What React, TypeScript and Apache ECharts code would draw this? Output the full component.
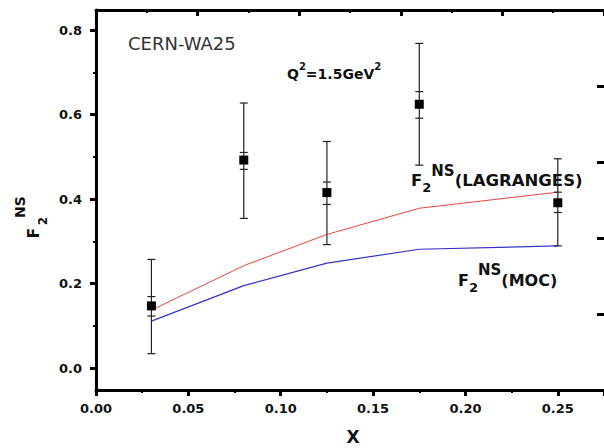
import React, { useEffect, useRef } from "react";
import * as echarts from "echarts";

// x values of the CERN-WA25 data points
const xs = [0.03, 0.08, 0.125, 0.175, 0.25];
// F2^NS measured values
const f2 = [0.147, 0.492, 0.415, 0.624, 0.391];
// total error bar ends
const totLow = [0.034, 0.354, 0.292, 0.48, 0.289];
const totHigh = [0.257, 0.627, 0.536, 0.768, 0.495];
// statistical error bar ends
const statLow = [0.123, 0.47, 0.387, 0.591, 0.368];
const statHigh = [0.169, 0.51, 0.44, 0.654, 0.416];
// model curves
const lagranges = [0.137, 0.242, 0.316, 0.378, 0.416];
const moc = [0.111, 0.195, 0.248, 0.281, 0.289];
// axis ticks
const xTicks = [0, 0.05, 0.1, 0.15, 0.2, 0.25];
const yTicks = [0, 0.2, 0.4, 0.6, 0.8];

const FONT = '"DejaVu Sans", Arial, sans-serif';

export default function App() {
  const ref = useRef<HTMLDivElement>(null);
  useEffect(() => {
    if (!ref.current) return;
    const chart = echarts.init(ref.current, null, { renderer: "svg" });
    const black = "#000";
    const labelStyle = { fontFamily: FONT, fontWeight: "bold", fontSize: 13, color: "#111" };
    const tok = (size: number, pad?: number[]) => ({
      fontFamily: FONT,
      fontWeight: "bold",
      fontSize: size,
      fill: "#111",
      color: "#111",
      ...(pad ? { padding: pad } : {}),
    });
    const option: any = {
      animation: false,
      backgroundColor: "#fff",
      grid: [
        { left: 96, top: 10, width: 513, height: 380 },
        { left: 96, top: 30, width: 513, height: 338 },
      ],
      xAxis: [
        {
          gridIndex: 0,
          type: "value",
          min: 0,
          max: 0.275,
          interval: 0.05,
          axisLine: { show: true, onZero: false, lineStyle: { color: black, width: 3 } },
          axisTick: { show: true, length: 6, lineStyle: { color: black, width: 3 } },
          minorTick: { show: true, splitNumber: 2, length: 3, lineStyle: { color: black, width: 2 } },
          splitLine: { show: false },
          axisLabel: {
            ...labelStyle,
            margin: 12,
            showMaxLabel: false,
            formatter: (v: number) => (xTicks.some((t) => Math.abs(t - v) < 1e-9) ? v.toFixed(2) : ""),
          },
        },
        {
          gridIndex: 0,
          type: "value",
          position: "top",
          min: 0,
          max: 5,
          interval: 1,
          axisLine: { show: true, onZero: false, lineStyle: { color: black, width: 3 } },
          axisTick: { show: true, inside: true, length: 6, lineStyle: { color: black, width: 3 } },
          minorTick: { show: true, splitNumber: 2, length: 3, lineStyle: { color: black, width: 2 } },
          splitLine: { show: false },
          axisLabel: { show: false },
        },
        { gridIndex: 1, type: "value", min: 0, max: 0.275, show: false },
      ],
      yAxis: [
        {
          gridIndex: 0,
          type: "value",
          min: -0.052,
          max: 0.847,
          axisLine: { show: true, onZero: false, lineStyle: { color: black, width: 3 } },
          axisTick: { show: false },
          axisLabel: { show: false },
          splitLine: { show: false },
        },
        {
          gridIndex: 0,
          type: "value",
          position: "right",
          min: 0,
          max: 5,
          interval: 1,
          axisLine: { show: false, onZero: false },
          axisTick: { show: true, inside: true, length: 7, lineStyle: { color: black, width: 3 } },
          axisLabel: { show: false },
          splitLine: { show: false },
        },
        {
          gridIndex: 1,
          type: "value",
          min: 0,
          max: 0.8,
          interval: 0.2,
          axisLine: { show: false, onZero: false },
          axisTick: { show: true, length: 6, lineStyle: { color: black, width: 3 } },
          minorTick: { show: true, splitNumber: 2, length: 3, lineStyle: { color: black, width: 2 } },
          splitLine: { show: false },
          axisLabel: {
            ...labelStyle,
            margin: 14,
            formatter: (v: number) => (yTicks.some((t) => Math.abs(t - v) < 1e-9) ? v.toFixed(1) : ""),
          },
        },
      ],
      series: [
        {
          type: "line",
          xAxisIndex: 0,
          yAxisIndex: 0,
          data: xs.map((x, i) => [x, lagranges[i]]),
          showSymbol: false,
          lineStyle: { color: "#e8453c", width: 1 },
          z: 2,
        },
        {
          type: "line",
          xAxisIndex: 0,
          yAxisIndex: 0,
          data: xs.map((x, i) => [x, moc[i]]),
          showSymbol: false,
          lineStyle: { color: "#3434c8", width: 1.2 },
          z: 2,
        },
        {
          type: "custom",
          xAxisIndex: 0,
          yAxisIndex: 0,
          data: xs.map((x, i) => [x, totLow[i], totHigh[i], statLow[i], statHigh[i]]),
          encode: { x: 0, y: [1, 2] },
          z: 3,
          renderItem: (params: any, api: any) => {
            const x = api.value(0);
            const pts = [1, 2, 3, 4].map((k) => api.coord([x, api.value(k)]));
            const hw = 4;
            const style = { stroke: "#222", lineWidth: 1.2 };
            const children: any[] = [
              { type: "line", shape: { x1: pts[0][0], y1: pts[0][1], x2: pts[1][0], y2: pts[1][1] }, style },
            ];
            pts.forEach((p) => {
              children.push({ type: "line", shape: { x1: p[0] - hw, y1: p[1], x2: p[0] + hw, y2: p[1] }, style });
            });
            return { type: "group", children };
          },
        },
        {
          type: "scatter",
          xAxisIndex: 0,
          yAxisIndex: 0,
          data: xs.map((x, i) => [x, f2[i]]),
          symbol: "rect",
          symbolSize: 9,
          itemStyle: { color: "#000", opacity: 1 },
          z: 4,
        },
      ],
      graphic: [
        {
          type: "text",
          x: 128,
          y: 43,
          style: { text: "CERN-WA25", font: `18px ${FONT}`, fill: "#333", verticalAlign: "middle", textVerticalAlign: "middle" },
        },
        {
          type: "text",
          x: 287,
          y: 74,
          style: {
            text: "{a|Q}{s|2}{a|=1.5GeV}{s|2}",
            verticalAlign: "middle",
            textVerticalAlign: "middle",
            rich: { a: tok(14), s: tok(10, [0, 0, 15, 0]) },
          },
        },
        {
          type: "text",
          x: 411,
          y: 180,
          style: {
            text: "{f|F}{b|2}{p|NS}{f|(LAGRANGES)}",
            verticalAlign: "middle",
            textVerticalAlign: "middle",
            rich: { f: tok(16.5), b: tok(13, [15, 0, 0, 0]), p: tok(15, [0, 0, 19, 0]) },
          },
        },
        {
          type: "text",
          x: 458,
          y: 280,
          style: {
            text: "{f|F}{b|2}{p|NS}{f|(MOC)}",
            verticalAlign: "middle",
            textVerticalAlign: "middle",
            rich: { f: tok(16), b: tok(13, [15, 0, 0, 0]), p: tok(15, [0, 0, 20, 0]) },
          },
        },
        {
          type: "text",
          x: 34,
          y: 233,
          rotation: Math.PI / 2,
          style: { text: "F", font: `bold 15px ${FONT}`, fill: "#111", align: "center", verticalAlign: "middle", textAlign: "center", textVerticalAlign: "middle" },
        },
        {
          type: "text",
          x: 42.5,
          y: 221,
          rotation: Math.PI / 2,
          style: { text: "2", font: `bold 12px ${FONT}`, fill: "#111", align: "center", verticalAlign: "middle", textAlign: "center", textVerticalAlign: "middle" },
        },
        {
          type: "text",
          x: 19.5,
          y: 207,
          rotation: Math.PI / 2,
          style: { text: "NS", font: `bold 14px ${FONT}`, fill: "#111", align: "center", verticalAlign: "middle", textAlign: "center", textVerticalAlign: "middle" },
        },
        {
          type: "text",
          x: 353,
          y: 437,
          style: { text: "X", font: `bold 17px ${FONT}`, fill: "#111", align: "center", verticalAlign: "middle", textAlign: "center", textVerticalAlign: "middle" },
        },
      ],
    };
    chart.setOption(option);
    return () => chart.dispose();
  }, []);
  return (
    <div
      ref={ref}
      style={{ position: "fixed", left: 0, top: 0, width: 604, height: 448, overflow: "hidden" }}
    />
  );
}
